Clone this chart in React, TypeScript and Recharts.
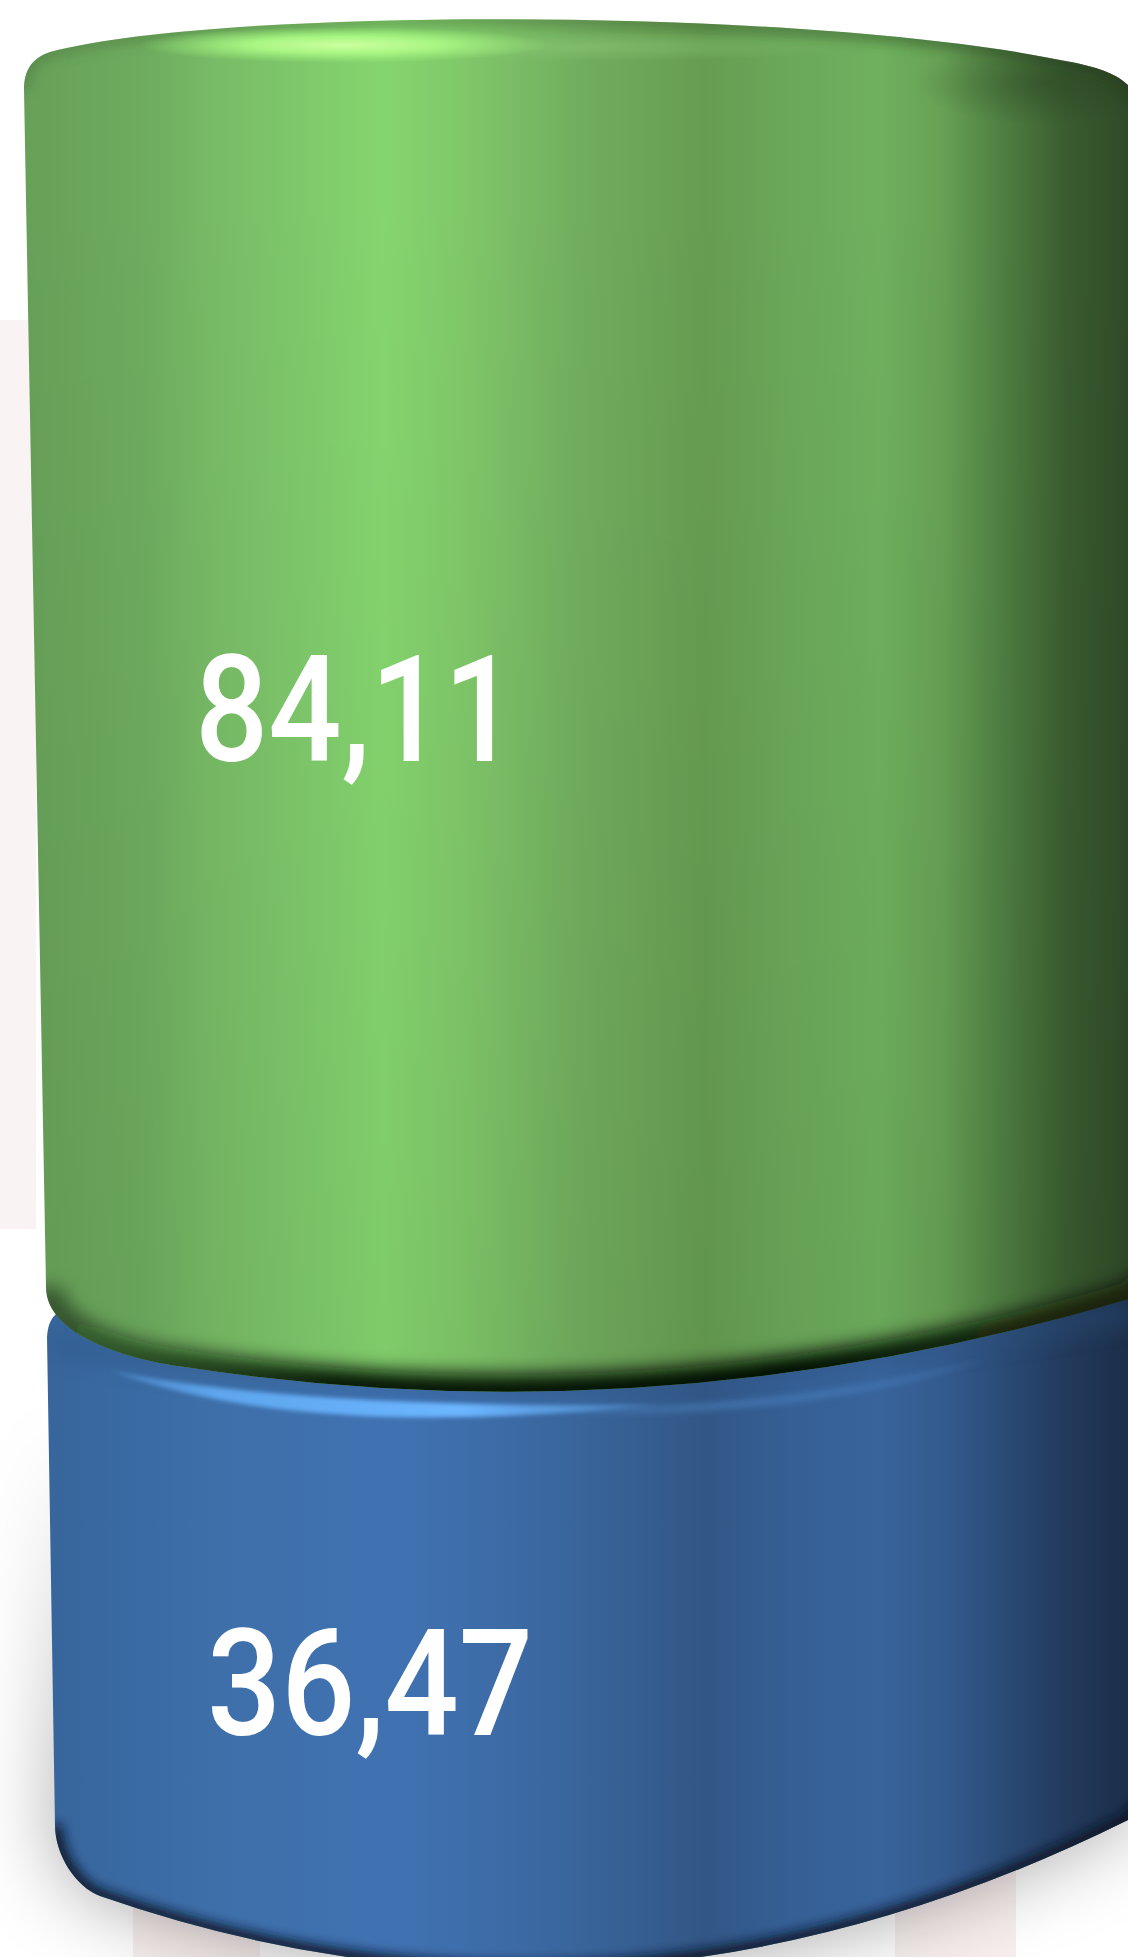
import { Bar, BarChart, LabelList, XAxis, YAxis } from "recharts"

const categories = ["Total"]
const lowerValues = [36.47]
const upperValues = [84.11]

const chartData = categories.map((name, i) => ({ name, lower: lowerValues[i], upper: upperValues[i] }))
const maxTotal = lowerValues[0] + upperValues[0]

const greenStops: [number, string][] = [
  [0.02, "#67a058"], [0.13, "#6eac5f"], [0.19, "#78bb66"], [0.34, "#85d56f"], [0.41, "#80c869"],
  [0.51, "#72ae5f"], [0.625, "#669c51"], [0.7, "#6ba85a"], [0.78, "#6fb05e"], [0.835, "#67a155"],
  [0.893, "#4d7c40"], [0.945, "#3a5c2f"], [1, "#2f4a28"],
]
const blueStops: [number, string][] = [
  [0.02, "#36649a"], [0.13, "#3b6ba4"], [0.19, "#3e6fa9"], [0.34, "#4072b2"], [0.41, "#3e6eab"],
  [0.51, "#39659c"], [0.625, "#325786"], [0.7, "#355f95"], [0.78, "#38639b"], [0.835, "#345b8f"],
  [0.893, "#2a4a74"], [0.945, "#223a5c"], [1, "#1c2f4a"],
]

const upperTopEdge = (x: number, y: number) =>
  `M${x},${y + 5} C${x},${y - 15} ${x + 8},${y - 27} ${x + 26},${y - 33} ` +
  `C${x + 196},${y - 78} ${x + 776},${y - 78} ${x + 1036},${y - 25} ` +
  `C${x + 1066},${y - 20} ${x + 1091},${y - 13} ${x + 1104},${y} L${x + 1124},${y + 20}`

const upperBottomEdge = (x: number, b: number, start: string) =>
  `${start}${x + 1124},${b - 18} L${x + 1104},${b - 3} Q${x + 630},${b + 138} ${x + 156},${b + 64} ` +
  `C${x + 110},${b + 58} ${x + 22},${b + 35} ${x + 22},${b - 15}`

const lowerTopEdge = (x: number, y: number) =>
  `M${x + 23},${y + 35} Q${x + 24},${y + 14} ${x + 38},${y + 8} L${x + 276},${y + 40} L${x + 776},${y + 40} ` +
  `L${x + 1104},${y - 15} L${x + 1124},${y - 25}`

const lowerBottomEdge = (x: number, b: number, start: string) =>
  `${start}${x + 1124},${b - 30} L${x + 1104},${b - 10} Q${x + 590},${b + 245} ${x + 76},${b + 66} ` +
  `C${x + 52},${b + 57} ${x + 31},${b + 25} ${x + 31},${b - 5}`

const UpperCylinder = (props: any) => {
  const { x, y, height } = props
  const b = y + height
  const body = `${upperTopEdge(x, y)} ${upperBottomEdge(x, b, "L")} Z`
  return (
    <g>
      <clipPath id="upperClip"><path d={body} /></clipPath>
      <path d={body} fill="url(#greenBody)" />
      <g clipPath="url(#upperClip)">
        <path d={body} fill="url(#upperFade)" />
        <path d={upperTopEdge(x, y)} fill="none" stroke="url(#upperRim)" strokeWidth={14} filter="url(#blur6)" />
        <ellipse cx={x + 1020} cy={y - 2} rx={130} ry={42} fill="url(#upperDark)" />
        <ellipse cx={x + 540} cy={y - 38} rx={290} ry={15} fill="url(#upperFaint)" />
        <ellipse cx={x + 320} cy={y - 40} rx={205} ry={18} fill="url(#upperShine)" />
        <path d={upperBottomEdge(x, b, "M")} fill="none" stroke="url(#upperShade)" strokeWidth={34} filter="url(#blur9)" />
      </g>
    </g>
  )
}

const LowerCylinder = (props: any) => {
  const { x, y, height } = props
  const b = y + height
  const body = `${lowerTopEdge(x, y)} ${lowerBottomEdge(x, b, "L")} Z`
  return (
    <g>
      <path d={body} fill="url(#lowerGlow)" filter="url(#blur40)" />
      <clipPath id="lowerClip"><path d={body} /></clipPath>
      <path d={body} fill="url(#blueBody)" />
      <g clipPath="url(#lowerClip)">
        <path d={`M${x + 30},${y + 40} Q${x + 450},${y + 130} ${x + 1110},${y + 10}`} fill="none" stroke="#2d5280" strokeWidth={30} opacity={0.3} filter="url(#blur9)" />
        <path d={`M${x + 520},${y + 108} Q${x + 760},${y + 106} ${x + 960},${y + 58} Q${x + 760},${y + 122} ${x + 520},${y + 108} Z`} fill="#4a80bd" opacity={0.6} filter="url(#blur3)" />
        <path d={`M${x + 85},${y + 68} Q${x + 280},${y + 108} ${x + 640},${y + 102} Q${x + 280},${y + 140} ${x + 85},${y + 68} Z`} fill="url(#lowerShine)" filter="url(#blur2)" />
        <path d={lowerBottomEdge(x, b, "M")} fill="none" stroke="#0b1626" strokeWidth={14} opacity={0.95} filter="url(#blur6)" />
      </g>
    </g>
  )
}

const valueLabel = (dx: number, rise: number, span: number) => (props: any) => {
  const { x, y, height, value } = props
  return (
    <text
      x={x + dx}
      y={y + height * rise}
      fill="#ffffff"
      fontFamily="Roboto"
      fontWeight={500}
      fontSize={149}
      textLength={span}
      lengthAdjust="spacingAndGlyphs"
    >
      {String(value).replace(".", ",")}
    </text>
  )
}

const blurFilter = (id: string, amount: number) => (
  <filter id={id} filterUnits="userSpaceOnUse" x={-100} y={-100} width={1328} height={2300}>
    <feGaussianBlur stdDeviation={amount} />
  </filter>
)

export default function App() {
  return (
    <div style={{ position: "absolute", left: 0, top: 0, width: 1128, height: 1957, background: "#fff", overflow: "hidden" }}>
      <BarChart
        width={1128}
        height={1957}
        data={chartData}
        margin={{ top: 85, right: 0, bottom: 127, left: 24 }}
        barCategoryGap={0}
      >
        <defs>
          <linearGradient id="greenBody" gradientUnits="userSpaceOnUse" x1={0} y1={0} x2={1128} y2={0}>
            {greenStops.map(([o, c]) => <stop key={o} offset={o} stopColor={c} />)}
          </linearGradient>
          <linearGradient id="blueBody" gradientUnits="userSpaceOnUse" x1={0} y1={0} x2={1128} y2={0}>
            {blueStops.map(([o, c]) => <stop key={o} offset={o} stopColor={c} />)}
          </linearGradient>
          <linearGradient id="upperFade" x1={0} y1={0} x2={0} y2={1}>
            <stop offset={0.1} stopColor="#000" stopOpacity={0} />
            <stop offset={1} stopColor="#000" stopOpacity={0.05} />
          </linearGradient>
          <linearGradient id="upperRim" gradientUnits="userSpaceOnUse" x1={0} y1={0} x2={1128} y2={0}>
            <stop offset={0} stopColor="#48703c" stopOpacity={0.4} />
            <stop offset={0.5} stopColor="#3e6633" stopOpacity={0.45} />
            <stop offset={1} stopColor="#22381c" stopOpacity={0.5} />
          </linearGradient>
          <radialGradient id="upperDark">
            <stop offset={0} stopColor="#253a1e" stopOpacity={0.4} />
            <stop offset={1} stopColor="#253a1e" stopOpacity={0} />
          </radialGradient>
          <radialGradient id="upperFaint">
            <stop offset={0} stopColor="#88c573" stopOpacity={0.6} />
            <stop offset={1} stopColor="#88c573" stopOpacity={0} />
          </radialGradient>
          <radialGradient id="upperShine">
            <stop offset={0} stopColor="#ccff9f" />
            <stop offset={0.45} stopColor="#aefb86" stopOpacity={0.9} />
            <stop offset={1} stopColor="#a0f57c" stopOpacity={0} />
          </radialGradient>
          <linearGradient id="upperShade" gradientUnits="userSpaceOnUse" x1={0} y1={0} x2={1128} y2={0}>
            <stop offset={0} stopColor="#0a0f08" stopOpacity={0.35} />
            <stop offset={0.3} stopColor="#050805" stopOpacity={0.95} />
            <stop offset={0.7} stopColor="#050805" stopOpacity={1} />
            <stop offset={1} stopColor="#0a0f08" stopOpacity={0.7} />
          </linearGradient>
          <linearGradient id="lowerShine" gradientUnits="userSpaceOnUse" x1={100} y1={0} x2={700} y2={0}>
            <stop offset={0} stopColor="#64b0fa" stopOpacity={0.3} />
            <stop offset={0.2} stopColor="#64b0fa" stopOpacity={0.85} />
            <stop offset={0.6} stopColor="#6cb6ff" />
            <stop offset={1} stopColor="#64b0fa" stopOpacity={0.1} />
          </linearGradient>
          <linearGradient id="lowerGlow" gradientUnits="userSpaceOnUse" x1={0} y1={1430} x2={0} y2={1850}>
            <stop offset={0} stopColor="#000" stopOpacity={0} />
            <stop offset={1} stopColor="#000" stopOpacity={0.36} />
          </linearGradient>
          {blurFilter("blur2", 2)}
          {blurFilter("blur3", 3)}
          {blurFilter("blur6", 6)}
          {blurFilter("blur9", 9)}
          {blurFilter("blur40", 40)}
        </defs>
        <rect x={0} y={320} width={36} height={909} fill="#f9f3f3" />
        <rect x={133} y={1850} width={127} height={107} fill="#f8eeee" />
        <rect x={895} y={1850} width={121} height={107} fill="#f8eeee" />
        <XAxis dataKey="name" hide />
        <YAxis hide domain={[0, maxTotal]} />
        <Bar dataKey="lower" stackId="a" fill="#3e6fa9" shape={LowerCylinder} isAnimationActive={false}>
          <LabelList dataKey="lower" content={valueLabel(183, 0.8208, 326)} />
        </Bar>
        <Bar dataKey="upper" stackId="a" fill="#78bb66" shape={UpperCylinder} isAnimationActive={false}>
          <LabelList dataKey="upper" content={valueLabel(171, 0.5556, 322)} />
        </Bar>
      </BarChart>
    </div>
  )
}
